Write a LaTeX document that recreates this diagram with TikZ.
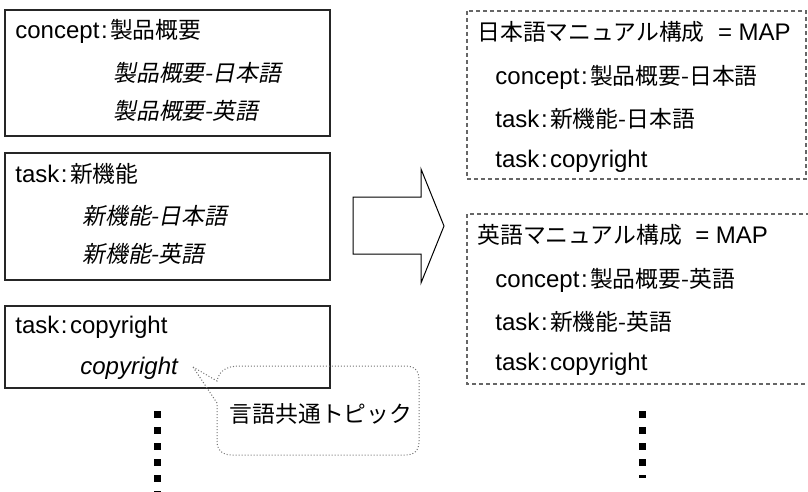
\documentclass[tikz,border=0pt]{standalone}
\usepackage{fontspec}
\setmainfont{Liberation Sans}
\newfontfamily\jp[Scale=0.95]{Noto Sans CJK JP}
\newfontfamily\jpit[Scale=0.95,FakeSlant=0.2]{Noto Sans CJK JP}
\usepackage{tikz}
\usetikzlibrary{positioning}
\usetikzlibrary{calc}

\newcommand{\cln}{\kern0.8pt:\kern1.2pt}
\tikzset{
srcbox/.style={draw=black!85,line width=0.6pt},
mapbox/.style={draw=black!60,line width=0.6pt,dash pattern=on 2pt off 1.5pt},
txt/.style={anchor=west,inner sep=0pt},
more/.style={line width=3.5pt,dash pattern=on 3.5pt off 4.5pt},
balloon/.style={draw=black!55,line width=0.5pt,densely dotted}
}

\begin{document}
\begin{tikzpicture}[x=0.5pt,y=-0.5pt,font=\fontsize{12}{14}\selectfont]
\useasboundingbox (0,0) rectangle (808,492);
\draw[srcbox] (5,10)coordinate (C1) rectangle (330,136);
\draw[srcbox] (5,153)coordinate (N1) rectangle (330,280);
\draw[srcbox] (5,306)coordinate (R1) rectangle (330,388);
\node[txt] (cpt) at ($(C1)+(10,21)$) {concept\cln{\jp 製品概要}};
\node[txt] (cptja) at ($(C1)+(108,63)$) {{\jpit 製品概要-日本語}};
\node[txt] (cpten) at ($(C1)+(108,101)$) {{\jpit 製品概要-英語}};
\node[txt] (nf) at ($(N1)+(10,21)$) {task\cln{\jp 新機能}};
\node[txt] (nfja) at ($(N1)+(77,63)$) {{\jpit 新機能-日本語}};
\node[txt] (nfen) at ($(N1)+(77,101)$) {{\jpit 新機能-英語}};
\node[txt] (cr) at ($(R1)+(10,21)$) {task\cln copyright};
\node[txt] (crx) at ($(R1)+(75,62)$) {\itshape copyright};
% arrow
\draw[line width=0.5pt,fill=white] (353,197)coordinate (A)--++(68,0)--++(0,-28)--++(23,57)--++(-23,57)--++(0,-29)--++(-68,0)--cycle;
% maps
\draw[mapbox] (467,11)coordinate (J1) rectangle (806,179);
\draw[mapbox] (467,214)coordinate (E1) rectangle (815,384);
\node[txt] (jmap) at ($(J1)+(10,21)$) {{\jp 日本語マニュアル構成}\ \ = MAP};
\node[txt] (jcpt) at ($(J1)+(28,66)$) {concept\cln{\jp 製品概要-日本語}};
\node[txt] (jnf) at ($(J1)+(28,108)$) {task\cln{\jp 新機能-日本語}};
\node[txt] (jcr) at ($(J1)+(28,150)$) {task\cln copyright};
\node[txt] (emap) at ($(E1)+(10,21)$) {{\jp 英語マニュアル構成}\ \ = MAP};
\node[txt] (ecpt) at ($(E1)+(28,66)$) {concept\cln{\jp 製品概要-英語}};
\node[txt] (enf) at ($(E1)+(28,108)$) {task\cln{\jp 新機能-英語}};
\node[txt] (ecr) at ($(E1)+(28,150)$) {task\cln copyright};
% balloon
\draw[balloon] (193,367)--(217,381) .. controls (219,371) and (226,366) .. (240,366)--(405,366) .. controls (414,366) and (419,370) .. (419,380)--(419,441) .. controls (419,451) and (414,455) .. (405,455)--(232,455) .. controls (222,455) and (217,450) .. (217,441)--(217,403)--cycle;
\node (common) at (321,414) {\jp 言語共通トピック};
% more
\draw[more] (157,411)--(157,500);
\draw[more] (642,411)--(642,478);
\end{tikzpicture}
\end{document}
